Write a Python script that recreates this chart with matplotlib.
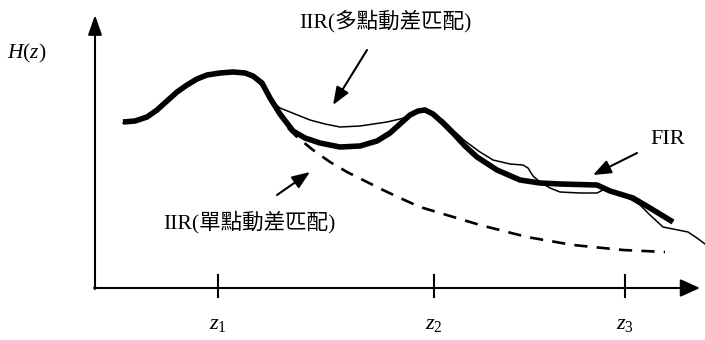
import matplotlib
matplotlib.use('Agg')
import matplotlib.pyplot as plt

plt.rcParams['mathtext.fontset'] = 'custom'
plt.rcParams['mathtext.rm'] = 'Liberation Serif'
plt.rcParams['mathtext.it'] = 'Liberation Serif:italic'

# curves, measured from the axis crossing
fir_x = [28, 40, 52, 62, 72, 82, 92, 102, 112, 125,
         138, 150, 158, 167, 175, 185, 198, 210, 225, 245,
         265, 282, 295, 305, 315, 323, 330, 338, 348, 358,
         370, 382, 402, 425, 445, 465, 502, 515, 538, 555, 578]
fir_y = [166, 167, 171, 178, 187, 196, 203, 209, 213, 215,
         216, 215, 212, 205, 190, 174, 157, 150, 145, 141,
         142, 147, 155, 164, 173, 177, 178, 174, 165, 155,
         142, 131, 118, 108, 105, 104, 103, 97, 90, 80, 66]

multi_x = [28, 40, 52, 62, 72, 82, 92, 102, 112, 125,
           138, 150, 158, 167, 175, 185, 200, 215, 230, 245,
           265, 292, 305, 312, 320, 325, 332, 338, 348, 358,
           370, 385, 398, 415, 428, 433, 438, 445, 455, 465,
           485, 502, 510, 525, 535, 545, 555, 568, 583, 593, 602, 610]
multi_y = [165, 168, 172, 177, 186, 195, 202, 208, 212, 214,
           215, 214, 210, 202, 188, 180, 174, 168, 164, 161,
           162, 166, 169, 171, 175, 177, 178, 175, 168, 158,
           147, 136, 128, 124, 123, 120, 112, 106, 100, 96,
           95, 95, 99, 93, 89, 83, 73, 61, 58, 56, 50, 44]

single_x = [193, 202, 218, 235, 252, 272, 288, 305, 325, 345, 385, 432, 478, 528, 570]
single_y = [160, 151, 138, 126, 116, 106, 98, 90, 81, 75, 63, 51, 43, 38, 36]

tick_pos = [123, 339, 530]
tick_labels = [r'$z_{\mathit{1}}$', r'$z_{\mathit{2}}$', r'$z_{\mathit{3}}$']

fig = plt.figure(figsize=(7.05, 3.4), dpi=100)
ax = fig.add_axes([0, 0, 1, 1])
ax.set_xlim(-95, 610)
ax.set_ylim(-52, 288)
ax.axis('off')

# axes with arrow heads
ax.annotate('', xy=(0, 273), xytext=(0, -1),
            arrowprops=dict(arrowstyle='-|>,head_length=1.0,head_width=0.35',
                            mutation_scale=12, lw=1.5, color='black',
                            shrinkA=0, shrinkB=0))
ax.annotate('', xy=(605, 0), xytext=(-1, 0),
            arrowprops=dict(arrowstyle='-|>,head_length=1.0,head_width=0.45',
                            mutation_scale=12, lw=1.5, color='black',
                            shrinkA=0, shrinkB=0))
for x, lab in zip(tick_pos, tick_labels):
    ax.plot([x, x], [-9, 13], color='black', lw=1.5)
    ax.text(x, -36, lab, ha='center', va='center', fontsize=16)

ax.text(-68, 235, '$H(z)$', ha='center', va='center', fontsize=15.5)

ax.plot(single_x, single_y, color='black', lw=1.9, linestyle=(0, (5, 3.5)))
ax.plot(multi_x, multi_y, color='black', lw=1.1, solid_joinstyle='round')
ax.plot(fir_x, fir_y, color='black', lw=4, solid_joinstyle='round',
        solid_capstyle='butt')

cjk = ['Liberation Serif', 'Noto Sans CJK TC']
ax.text(290, 267, 'IIR(多點動差匹配)', ha='center', va='center',
        fontsize=15.5, family=cjk)
ax.text(154, 66, 'IIR(單點動差匹配)', ha='center', va='center',
        fontsize=15.5, family=cjk)
ax.text(573, 148, 'FIR', ha='center', va='center', fontsize=16,
        family='Liberation Serif')

pointer = dict(arrowstyle='-|>,head_length=0.9,head_width=0.35',
               mutation_scale=12, lw=1.5, color='black', shrinkA=0, shrinkB=0)
ax.annotate('', xy=(238, 183), xytext=(272, 238), arrowprops=pointer)
ax.annotate('', xy=(215, 116), xytext=(182, 93), arrowprops=pointer)
ax.annotate('', xy=(498, 113), xytext=(542, 135), arrowprops=pointer)

fig.savefig('out.png', dpi=100)
